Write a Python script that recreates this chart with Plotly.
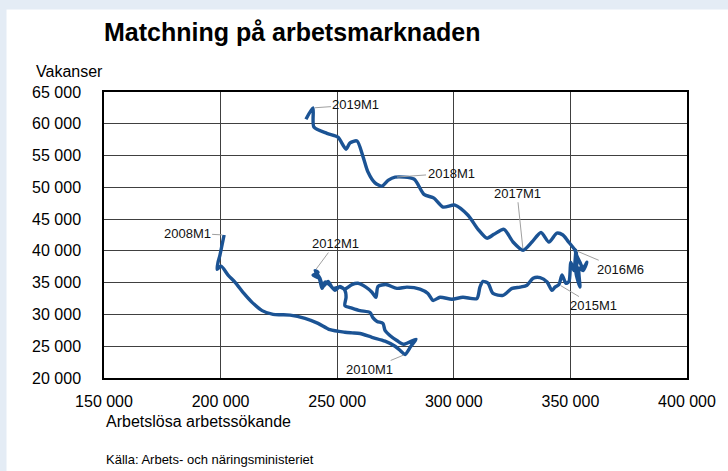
import plotly.graph_objects as go

# Arbetslösa arbetssökande (x) och vakanser (y), månadsvis 2008M1 - 2019M2
unemployed = [
    # 2008M1 - 2010M1
    201500, 200600, 199700, 198900, 198500, 200200, 203200, 206600, 210000, 213500,
    217800, 222500, 225900, 229800, 236200, 241800, 246900, 253300, 256300, 259800,
    264900, 270500, 274800, 277400, 279100,
    # 2010M2 - 2012M1
    281600, 283800, 278600, 275600, 272600, 270500, 269600, 267100, 265300, 264100,
    259800, 256300, 253300, 253800, 253300, 251200, 249100, 246900, 244800, 243500,
    242200, 239600, 241800, 240500,
    # 2012M2 - 2015M1
    242600, 243900, 246100, 248200, 251200, 253300, 256300, 258900, 262300, 264900,
    266600, 267500, 270900, 275600, 279900, 285500, 288900, 291100, 294100, 299200,
    303900, 309900, 311200, 312500, 314700, 316800, 321100, 325000, 328400, 331400,
    334000, 337000, 340000, 342100, 343400, 345100,
    # 2015M2 - 2016M6
    346400, 348100, 349400, 350200, 351500, 352400, 352800, 352400, 354100, 353700,
    355400, 357100, 355400, 354100, 353300, 352400, 352000,
    # 2016M7 - 2017M1
    349000, 346800, 344200, 340800, 337400, 333500, 329700,
    # 2017M2 - 2018M1
    325400, 321500, 317200, 314200, 310400, 306100, 300500, 295400, 291500, 287200,
    282900, 274800,
    # 2018M2 - 2019M2
    271800, 269200, 266200, 263200, 261100, 258500, 255500, 253800, 250300, 245600,
    240000, 239600, 236600,
]
vacancies = [
    42500, 40900, 39300, 38200, 37100, 37600, 36200, 34900, 33300, 31900,
    30600, 30000, 29950, 29900, 29400, 28600, 27600, 27200, 27100, 27000,
    26400, 25800, 25000, 24200, 23700,
    25000, 26100, 25300, 25900, 26700, 27500, 28600, 28900, 29500, 30300,
    30600, 31000, 31400, 32700, 33800, 34400, 33800, 34600, 35100, 34100,
    35700, 36200, 36600, 36900,
    35700, 34400, 35200, 34100, 34300, 34000, 34700, 34900, 34300, 33500,
    32700, 34400, 34700, 34100, 34300, 34000, 33300, 32200, 32700, 32400,
    32700, 32500, 34300, 35200, 34900, 33300, 33000, 34100, 34300, 34600,
    35700, 35800, 35100, 33800, 34300, 34700,
    36200, 34900, 35200, 38200, 36900, 40100, 38200, 36600, 34300, 37300,
    36900, 38200, 37300, 38200, 38800, 39500, 40100,
    41500, 42500, 42800, 41400, 42900, 41400, 40100,
    41400, 43400, 42600, 42000, 43400, 45600, 47200, 46900, 48300, 48900,
    51300, 51600,
    51100, 50200, 50700, 52400, 54800, 57300, 57000, 56000, 57900, 58500,
    59500, 62500, 60700,
]

start_year = 2008
months = [f"{start_year + i // 12}M{i % 12 + 1}" for i in range(len(unemployed))]

# Markerade månader och textens förskjutning (px)
label_months = ["2008M1", "2010M1", "2012M1", "2015M1", "2016M6", "2017M1", "2018M1", "2019M1"]
label_dx = [-37, -36, 20, 35, 45, -6, 56, 43]
label_dy = [-2, 15, -27, 21, 19, -57, -4, -3]

x_ticks = [150000, 200000, 250000, 300000, 350000, 400000]
y_ticks = [20000, 25000, 30000, 35000, 40000, 45000, 50000, 55000, 60000, 65000]

FONT = "Liberation Sans, Arial, sans-serif"
LINE_COLOR = "#1b5394"

fig = go.Figure()
fig.add_trace(go.Scatter(
    x=unemployed, y=vacancies, mode="lines", text=months,
    line=dict(color=LINE_COLOR, width=3.4, shape="spline", smoothing=0.7),
    hoverinfo="text+x+y", showlegend=False,
))

annotations = []
for lab, dx, dy in zip(label_months, label_dx, label_dy):
    i = months.index(lab)
    annotations.append(dict(
        x=unemployed[i], y=vacancies[i], xref="x", yref="y",
        text=lab, showarrow=True, arrowhead=0, arrowwidth=1, arrowcolor="#a0a0a0",
        ax=dx, ay=dy, font=dict(family=FONT, size=13, color="#111"),
        standoff=2,
    ))

L, R, T, B = 104, 41, 92, 93
W, H = 728, 471
pw, ph = W - L - R, H - T - B

def px(xp):
    return (xp - L) / pw

def py(yp):
    return (H - B - yp) / ph

annotations += [
    dict(xref="paper", yref="paper", x=px(102), y=py(32), xanchor="left", yanchor="middle",
         text="<b>Matchning på arbetsmarknaden</b>", showarrow=False,
         font=dict(family=FONT, size=25, color="#000")),
    dict(xref="paper", yref="paper", x=px(34), y=py(71), xanchor="left", yanchor="middle",
         text="Vakanser", showarrow=False, font=dict(family=FONT, size=16, color="#000")),
    dict(xref="paper", yref="paper", x=px(104), y=py(421), xanchor="left", yanchor="middle",
         text="Arbetslösa arbetssökande", showarrow=False,
         font=dict(family=FONT, size=16, color="#000")),
    dict(xref="paper", yref="paper", x=px(104), y=py(459), xanchor="left", yanchor="middle",
         text="Källa: Arbets- och näringsministeriet", showarrow=False,
         font=dict(family=FONT, size=13, color="#000")),
]

BAND = "#e4ecf5"
shapes = [
    dict(type="rect", xref="paper", yref="paper", layer="below",
         x0=px(-5), x1=px(W + 5), y0=py(9.5), y1=py(-5), fillcolor=BAND, line=dict(width=0)),
    dict(type="rect", xref="paper", yref="paper", layer="below",
         x0=px(-5), x1=px(6.5), y0=py(H + 5), y1=py(-5), fillcolor=BAND, line=dict(width=0)),
]

axis_common = dict(
    showline=True, linecolor="#000", linewidth=1.5, mirror=True,
    showgrid=True, gridcolor="#404040", gridwidth=1, zeroline=False,
    tickformat=",d", ticks="outside", tickcolor="rgba(0,0,0,0)",
    tickfont=dict(family=FONT, size=16, color="#000"),
)

fig.update_layout(
    width=W, height=H,
    margin=dict(l=L, r=R, t=T, b=B),
    paper_bgcolor="white", plot_bgcolor="white",
    separators=", ",
    xaxis=dict(range=[x_ticks[0], x_ticks[-1]], tickvals=x_ticks, ticklen=8, **axis_common),
    yaxis=dict(range=[y_ticks[0], y_ticks[-1]], tickvals=y_ticks, ticklen=18, **axis_common),
    annotations=annotations,
    shapes=shapes,
    font=dict(family=FONT),
)

fig.write_html(
    "out.html",
    config={"displayModeBar": False},
    post_script="document.body.style.margin='0';document.body.style.overflow='hidden';",
)
